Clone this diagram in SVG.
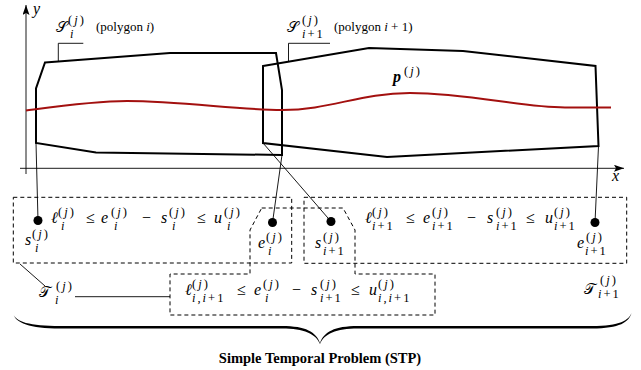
<svg xmlns="http://www.w3.org/2000/svg" width="641" height="370" viewBox="0 0 641 370">
<defs>
<marker id="arr" markerUnits="userSpaceOnUse" markerWidth="11" markerHeight="7" refX="10" refY="3.5" orient="auto">
<path d="M0,0 L10,3.5 L0,7 L2,3.5 Z" fill="#000"/>
</marker>
</defs>
<style>
.poly{fill:none;stroke:#000;stroke-width:2;stroke-linejoin:miter}
.dash{fill:none;stroke:#000;stroke-width:1;stroke-dasharray:4 3}
.ln{fill:none;stroke:#000;stroke-width:0.9}
.ax{fill:none;stroke:#000;stroke-width:0.9}
.dot{fill:#000}
text{font-family:"Liberation Serif","DejaVu Serif","Times New Roman",serif;fill:#000}
.mi{font-size:16px;font-style:italic}
.mo{font-size:16px}
.sc{font-size:12.5px;letter-spacing:2px}
.it{font-style:italic}
.cal{font-family:"DejaVu Serif","DejaVu Sans",serif;font-size:15px}
.lbl{font-size:13px}
.title{font-size:14.5px;font-weight:bold;text-anchor:middle}
</style>

<g id="axes">
<line class="ax" x1="26" y1="174" x2="26" y2="5" marker-end="url(#arr)"/>
<line class="ax" x1="20" y1="168.3" x2="624" y2="168.3" marker-end="url(#arr)"/>
<text class="mi" x="33" y="14" font-size="14">y</text>
<text class="mi" x="612" y="181" font-size="14">x</text>
</g>

<g id="polygon-i">
<polygon class="poly" points="45,62.5 170,53 276,53 282,90 282,155 96,152.5 36,143 36,88.5"/>
<polyline class="ln" points="58.3,62 58.3,43.3 83.3,43.3"/>
<text class="cal" x="56" y="32">𝒮</text>
<text class="sc" x="68" y="24">(<tspan class="it">j</tspan>)</text>
<text class="sc" x="70" y="38"><tspan class="it">i</tspan></text>
<text class="lbl" x="96" y="31">(polygon <tspan class="it">i</tspan>)</text>
</g>

<g id="polygon-i1">
<polygon class="poly" points="263,66 369,48 463,51 595.5,66 598.5,146 387,157 263,143"/>
<polyline class="ln" points="288.5,61.5 288.5,43.3 330,43.3"/>
<text class="cal" x="287" y="32">𝒮</text>
<text class="sc" x="302" y="24">(<tspan class="it">j</tspan>)</text>
<text class="sc" x="302" y="38"><tspan class="it">i</tspan>+1</text>
<text class="lbl" x="334" y="31">(polygon <tspan class="it">i</tspan> + 1)</text>
</g>

<g id="path-p">
<path d="M26,110.5 C60,106 95,101 127,101 C180,101 240,110 282,110 C330,110 360,93 410,93 C470,93 520,107.5 565,107.5 L611,107.5" fill="none" stroke="#a3100f" stroke-width="2"/>
<text class="mi" x="393" y="82" font-weight="bold">p</text>
<text class="sc" x="404" y="75">(<tspan class="it">j</tspan>)</text>
</g>

<g id="connectors">
<line class="ln" x1="36" y1="143" x2="38" y2="220.5"/>
<line class="ln" x1="282" y1="155" x2="272.5" y2="222.5"/>
<line class="ln" x1="263" y1="143" x2="331" y2="221.5"/>
<line class="ln" x1="598.5" y1="146" x2="595" y2="222.5"/>
<line class="ln" x1="20" y1="264" x2="45" y2="286"/>
<line class="ln" x1="75" y1="296.7" x2="170" y2="296.7"/>
</g>

<g id="T-i">
<rect class="dash" x="13.3" y="197.3" width="278.4" height="65.7"/>
<circle class="dot" cx="38" cy="220.5" r="4.5"/>
<text class="mi" x="25" y="245">s</text>
<text class="sc" x="32" y="238">(<tspan class="it">j</tspan>)</text>
<text class="sc" x="35" y="252"><tspan class="it">i</tspan></text>
<text class="mi" x="51" y="223">ℓ</text>
<text class="sc" x="58" y="216">(<tspan class="it">j</tspan>)</text>
<text class="sc" x="61" y="230"><tspan class="it">i</tspan></text>
<text class="mo" x="86" y="223">≤</text>
<text class="mi" x="101" y="223">e</text>
<text class="sc" x="111" y="216">(<tspan class="it">j</tspan>)</text>
<text class="sc" x="114" y="230"><tspan class="it">i</tspan></text>
<text class="mo" x="142" y="223">−</text>
<text class="mi" x="161" y="223">s</text>
<text class="sc" x="169" y="216">(<tspan class="it">j</tspan>)</text>
<text class="sc" x="172" y="230"><tspan class="it">i</tspan></text>
<text class="mo" x="197" y="223">≤</text>
<text class="mi" x="214" y="223">u</text>
<text class="sc" x="224" y="216">(<tspan class="it">j</tspan>)</text>
<text class="sc" x="227" y="230"><tspan class="it">i</tspan></text>
<text class="cal" x="39" y="297">𝒯</text>
<text class="sc" x="56" y="290">(<tspan class="it">j</tspan>)</text>
<text class="sc" x="55" y="304"><tspan class="it">i</tspan></text>
</g>

<g id="T-i1">
<rect class="dash" x="304" y="197.3" width="322.7" height="66"/>
<circle class="dot" cx="595" cy="222.5" r="4.5"/>
<text class="mi" x="577" y="248">e</text>
<text class="sc" x="586" y="241">(<tspan class="it">j</tspan>)</text>
<text class="sc" x="585" y="255"><tspan class="it">i</tspan>+1</text>
<text class="mi" x="365" y="223">ℓ</text>
<text class="sc" x="372" y="216">(<tspan class="it">j</tspan>)</text>
<text class="sc" x="372" y="230"><tspan class="it">i</tspan>+1</text>
<text class="mo" x="406" y="223">≤</text>
<text class="mi" x="423" y="223">e</text>
<text class="sc" x="432" y="216">(<tspan class="it">j</tspan>)</text>
<text class="sc" x="432" y="230"><tspan class="it">i</tspan>+1</text>
<text class="mo" x="467" y="223">−</text>
<text class="mi" x="487" y="223">s</text>
<text class="sc" x="496" y="216">(<tspan class="it">j</tspan>)</text>
<text class="sc" x="496" y="230"><tspan class="it">i</tspan>+1</text>
<text class="mo" x="526" y="223">≤</text>
<text class="mi" x="545" y="223">u</text>
<text class="sc" x="554" y="216">(<tspan class="it">j</tspan>)</text>
<text class="sc" x="554" y="230"><tspan class="it">i</tspan>+1</text>
<text class="cal" x="584" y="294">𝒯</text>
<text class="sc" x="600" y="284">(<tspan class="it">j</tspan>)</text>
<text class="sc" x="598" y="298"><tspan class="it">i</tspan>+1</text>
</g>

<g id="coupling">
<polygon class="dash" points="261.7,208 343,208 355,230 355,274 435,274 435,315 170,315 170,274 250,274 250,230"/>
<circle class="dot" cx="272.5" cy="222.5" r="4.5"/>
<text class="mi" x="258" y="248">e</text>
<text class="sc" x="266" y="241">(<tspan class="it">j</tspan>)</text>
<text class="sc" x="268" y="255"><tspan class="it">i</tspan></text>
<circle class="dot" cx="331" cy="221.5" r="4.5"/>
<text class="mi" x="315" y="248">s</text>
<text class="sc" x="323" y="241">(<tspan class="it">j</tspan>)</text>
<text class="sc" x="323" y="255"><tspan class="it">i</tspan>+1</text>
<text class="mi" x="185" y="295">ℓ</text>
<text class="sc" x="192" y="288">(<tspan class="it">j</tspan>)</text>
<text class="sc" x="192" y="302"><tspan class="it">i</tspan>,<tspan class="it">i</tspan>+1</text>
<text class="mo" x="237" y="295">≤</text>
<text class="mi" x="254" y="295">e</text>
<text class="sc" x="263" y="288">(<tspan class="it">j</tspan>)</text>
<text class="sc" x="265" y="302"><tspan class="it">i</tspan></text>
<text class="mo" x="292" y="295">−</text>
<text class="mi" x="311" y="295">s</text>
<text class="sc" x="320" y="288">(<tspan class="it">j</tspan>)</text>
<text class="sc" x="320" y="302"><tspan class="it">i</tspan>+1</text>
<text class="mo" x="351" y="295">≤</text>
<text class="mi" x="369" y="295">u</text>
<text class="sc" x="378" y="288">(<tspan class="it">j</tspan>)</text>
<text class="sc" x="378" y="302"><tspan class="it">i</tspan>,<tspan class="it">i</tspan>+1</text>
</g>

<g id="stp">
<path d="M13,313 C15,322 30,326 60,326 L282,326 C306,326 316,332 320,343 C324,332 334,326 358,326 L592,326 C620,326 629,320 631.5,313 C629,322 620,328.5 592,328.5 L358,328.5 C336,328.5 324,334 320,344 C316,334 304,328.5 282,328.5 L60,328.5 C30,328.5 15,323 13,313 Z" fill="#000"/>
<text class="title" x="320" y="363">Simple Temporal Problem (STP)</text>
</g>
</svg>
